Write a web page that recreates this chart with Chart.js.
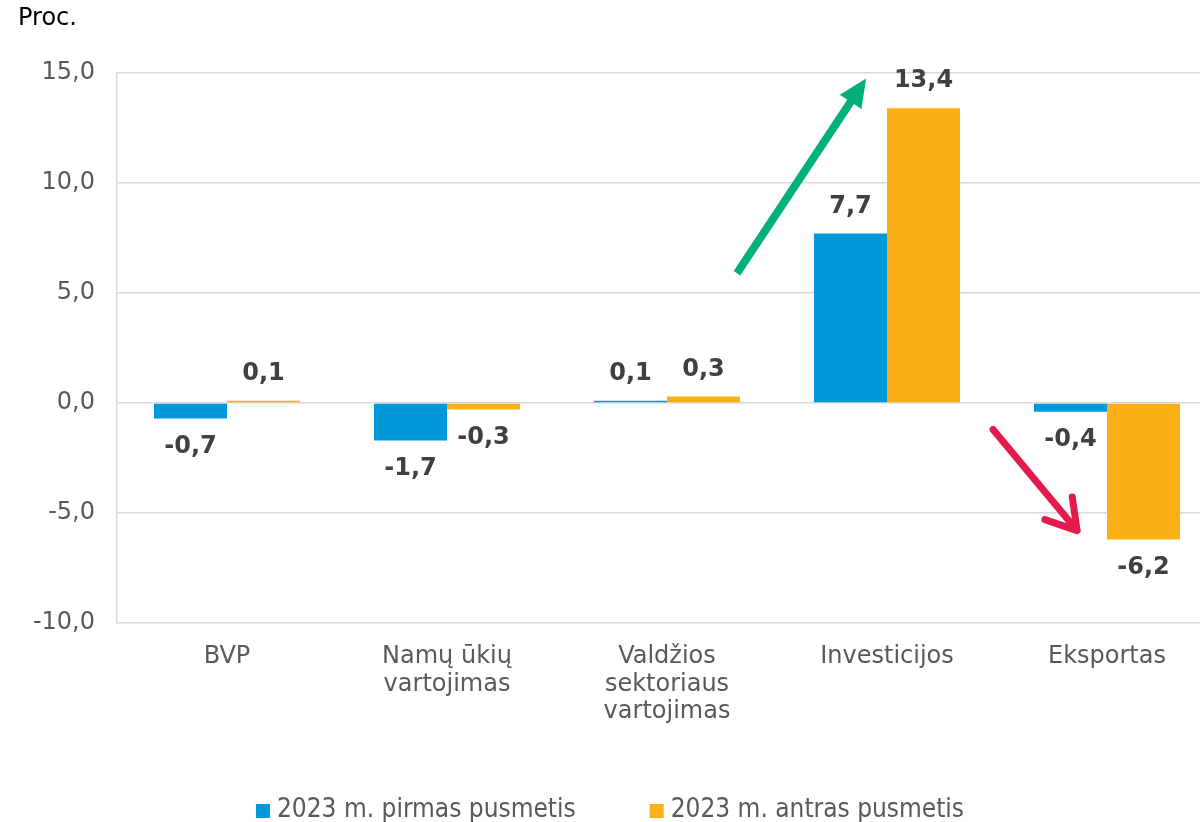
<!DOCTYPE html>
<html>
<head>
<meta charset="utf-8">
<script src="https://cdn.jsdelivr.net/npm/chart.js@4.4.1/dist/chart.umd.min.js"></script>
<style>
  html, body { margin: 0; padding: 0; background: #fff; overflow: hidden; }
  #wrap { position: relative; width: 1220px; height: 822px; }
  #unit { position: absolute; left: 18px; top: 3px; font: 24px "DejaVu Sans", sans-serif; color: #000; }
</style>
</head>
<body>
<div id="wrap">
  <canvas id="chart" width="1220" height="822"></canvas>
  <div id="unit">Proc.</div>
</div>
<script>
const categories = [['BVP'], ['Namų ūkių', 'vartojimas'], ['Valdžios', 'sektoriaus', 'vartojimas'], ['Investicijos'], ['Eksportas']];
const seriesNames = ['2023 m. pirmas pusmetis', '2023 m. antras pusmetis'];
const firstHalf = [-0.7, -1.7, 0.1, 7.7, -0.4];
const secondHalf = [0.1, -0.3, 0.3, 13.4, -6.2];
const yMin = -10;
const yMax = 15;
const yStep = 5;

const blue = '#0098d6';
const orange = '#fdaf17';

function fmt(v) {
    return v.toFixed(1).replace('.', ',');
}

// value labels above/below each bar
const valueLabels = {
    id: 'valueLabels',
    afterDatasetsDraw(chart) {
        const ctx = chart.ctx;
        ctx.save();
        ctx.font = 'bold 24px "DejaVu Sans", sans-serif';
        ctx.fillStyle = '#404040';
        ctx.textAlign = 'center';
        ctx.textBaseline = 'middle';
        chart.data.datasets.forEach(function(ds, i) {
            chart.getDatasetMeta(i).data.forEach(function(bar, j) {
                const v = ds.data[j];
                const y = v >= 0 ? Math.min(bar.y, bar.base) - 27 : Math.max(bar.y, bar.base) + 28;
                ctx.fillText(fmt(v), bar.x, y);
            });
        });
        ctx.restore();
    }
};

// the two trend arrows, placed in data units
const arrows = {
    id: 'arrows',
    afterDatasetsDraw(chart) {
        const ctx = chart.ctx;
        const xs = chart.scales.x, ys = chart.scales.y;
        const p = (a, b) => [xs.getPixelForValue(a), ys.getPixelForValue(b)];

        // green, filled head
        let s = p(2.318, 5.9), t = p(2.905, 14.75);
        let ang = Math.atan2(t[1] - s[1], t[0] - s[0]);
        ctx.save();
        ctx.strokeStyle = '#00b07a';
        ctx.fillStyle = '#00b07a';
        ctx.lineWidth = 8;
        ctx.beginPath();
        ctx.moveTo(s[0], s[1]);
        ctx.lineTo(t[0] - 20 * Math.cos(ang), t[1] - 20 * Math.sin(ang));
        ctx.stroke();
        ctx.beginPath();
        ctx.moveTo(t[0], t[1]);
        ctx.lineTo(t[0] - 28 * Math.cos(ang) + 13 * Math.sin(ang), t[1] - 28 * Math.sin(ang) - 13 * Math.cos(ang));
        ctx.lineTo(t[0] - 28 * Math.cos(ang) - 13 * Math.sin(ang), t[1] - 28 * Math.sin(ang) + 13 * Math.cos(ang));
        ctx.closePath();
        ctx.fill();

        // red, open head
        s = p(3.482, -1.2);
        t = p(3.864, -5.8);
        ang = Math.atan2(t[1] - s[1], t[0] - s[0]);
        ctx.strokeStyle = '#e31b4d';
        ctx.lineWidth = 7;
        ctx.lineCap = 'round';
        ctx.lineJoin = 'round';
        ctx.beginPath();
        ctx.moveTo(s[0], s[1]);
        ctx.lineTo(t[0], t[1]);
        const h = 34, w = 0.55;
        ctx.moveTo(t[0] - h * Math.cos(ang - w), t[1] - h * Math.sin(ang - w));
        ctx.lineTo(t[0], t[1]);
        ctx.lineTo(t[0] - h * Math.cos(ang + w), t[1] - h * Math.sin(ang + w));
        ctx.stroke();
        ctx.restore();
    }
};

// legend drawn at the bottom with wide gap between the two items
const bottomLegend = {
    id: 'bottomLegend',
    afterDraw(chart) {
        const ctx = chart.ctx;
        const gap = 74, box = 14, textGap = 7, y = 810;
        ctx.save();
        ctx.font = '26px "DejaVu Sans Condensed", "DejaVu Sans", sans-serif';
        ctx.textBaseline = 'middle';
        ctx.textAlign = 'left';
        const items = chart.data.datasets.map(ds => ({ text: ds.label, color: ds.backgroundColor, w: ctx.measureText(ds.label).width }));
        let total = items.reduce((a, it) => a + box + textGap + it.w, 0) + gap * (items.length - 1);
        let x = chart.width / 2 - total / 2;
        items.forEach(function(it) {
            ctx.fillStyle = it.color;
            ctx.fillRect(x, y - 6, box, box);
            ctx.fillStyle = '#595959';
            ctx.fillText(it.text, x + box + textGap, y);
            x += box + textGap + it.w + gap;
        });
        ctx.restore();
    }
};

new Chart(document.getElementById('chart'), {
    type: 'bar',
    data: {
        labels: categories,
        datasets: [
            { label: seriesNames[0], data: firstHalf, backgroundColor: blue },
            { label: seriesNames[1], data: secondHalf, backgroundColor: orange }
        ]
    },
    options: {
        responsive: false,
        animation: false,
        layout: { padding: { top: 73, right: 3, left: 0, bottom: 0 } },
        datasets: { bar: { barPercentage: 1, categoryPercentage: 0.664 } },
        scales: {
            x: {
                grid: { display: false },
                border: { display: false },
                ticks: {
                    color: '#595959',
                    font: { family: '"DejaVu Sans", sans-serif', size: 24, lineHeight: 1.15 },
                    padding: 12,
                    maxRotation: 0,
                    autoSkip: false
                },
                afterFit(axis) { axis.height = 199; }
            },
            y: {
                min: yMin,
                max: yMax,
                ticks: {
                    stepSize: yStep,
                    color: '#595959',
                    font: { family: '"DejaVu Sans", sans-serif', size: 24 },
                    padding: 22,
                    callback: (v) => fmt(v)
                },
                grid: { color: '#d9d9d9', lineWidth: 1.5, drawTicks: false },
                border: { color: '#d9d9d9', width: 1.5 },
                afterFit(axis) { axis.width = 117; }
            }
        },
        plugins: {
            legend: { display: false },
            tooltip: { enabled: false }
        }
    },
    plugins: [valueLabels, arrows, bottomLegend]
});
</script>
</body>
</html>
